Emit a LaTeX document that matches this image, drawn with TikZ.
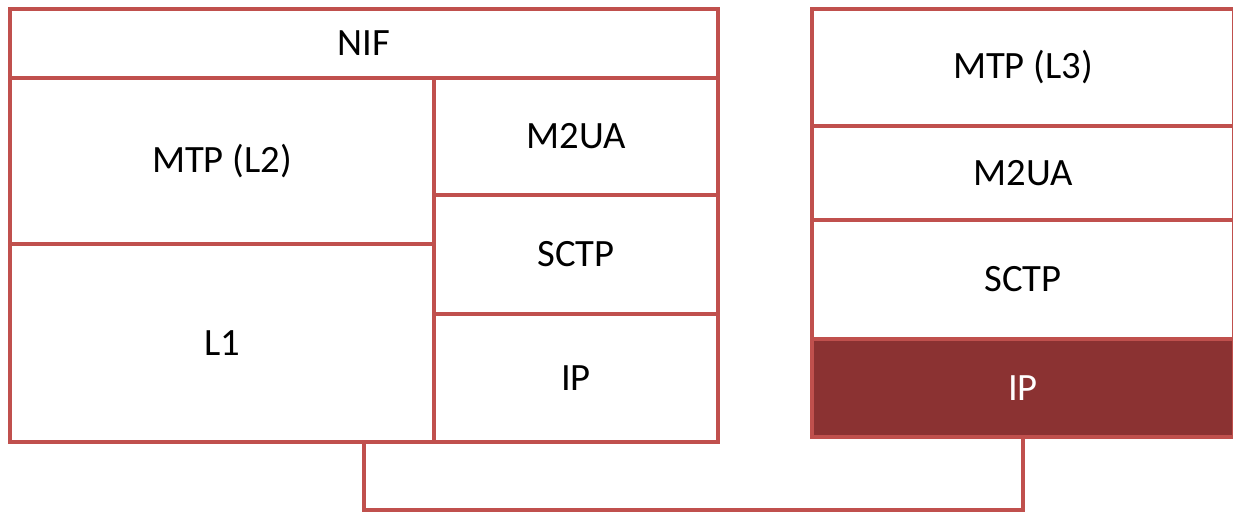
\documentclass[tikz,border=0pt]{standalone}
\usepackage{fontspec}
\setmainfont{Carlito}
\usetikzlibrary{fit,positioning}
\definecolor{layerred}{RGB}{192,80,77}
\definecolor{ipred}{RGB}{139,50,50}

\begin{document}
\begin{tikzpicture}[x=0.02cm,y=-0.02cm]

\tikzset{layer/.style={draw=layerred,line width=2.3pt,fill=white,inner sep=0pt,shape=rectangle,font=\fontsize{22}{26}\selectfont},
iplayer/.style={layer,fill=ipred,text=white},
link/.style={draw=layerred,line width=2.3pt}}

\useasboundingbox (0,0) rectangle (1233,512);

% NIF stack
\node[layer,minimum width=14.16cm,minimum height=1.38cm] (nif) at (364,43.5) {NIF};
\node[layer,minimum width=8.48cm,minimum height=3.32cm] (mtpl2) at (222,161) {MTP (L2)};
\node[layer,minimum width=8.48cm,minimum height=3.96cm] (l1) at (222,343) {L1};
\node[layer,minimum width=5.68cm,minimum height=2.34cm] (lm2ua) at (576,136.5) {M2UA};
\node[layer,minimum width=5.68cm,minimum height=2.38cm] (lsctp) at (576,254.5) {SCTP};
\node[layer,minimum width=5.68cm,minimum height=2.56cm] (lip) at (576,378) {IP};
\node[inner sep=0pt,fit=(nif) (l1) (lip)] (left) {};

% MTP (L3) stack
\node[layer,minimum width=8.44cm,minimum height=2.34cm] (mtpl3) at (1023,67.5) {MTP (L3)};
\node[layer,minimum width=8.44cm,minimum height=1.88cm] (rm2ua) at (1023,173) {M2UA};
\node[layer,minimum width=8.44cm,minimum height=2.38cm] (rsctp) at (1023,279.5) {SCTP};
\node[iplayer,minimum width=8.44cm,minimum height=1.96cm] (rip) at (1023,388) {IP};

% Link
\draw[link] (left.south) -- ++(0,66) -| (rip.south);

\end{tikzpicture}
\end{document}
